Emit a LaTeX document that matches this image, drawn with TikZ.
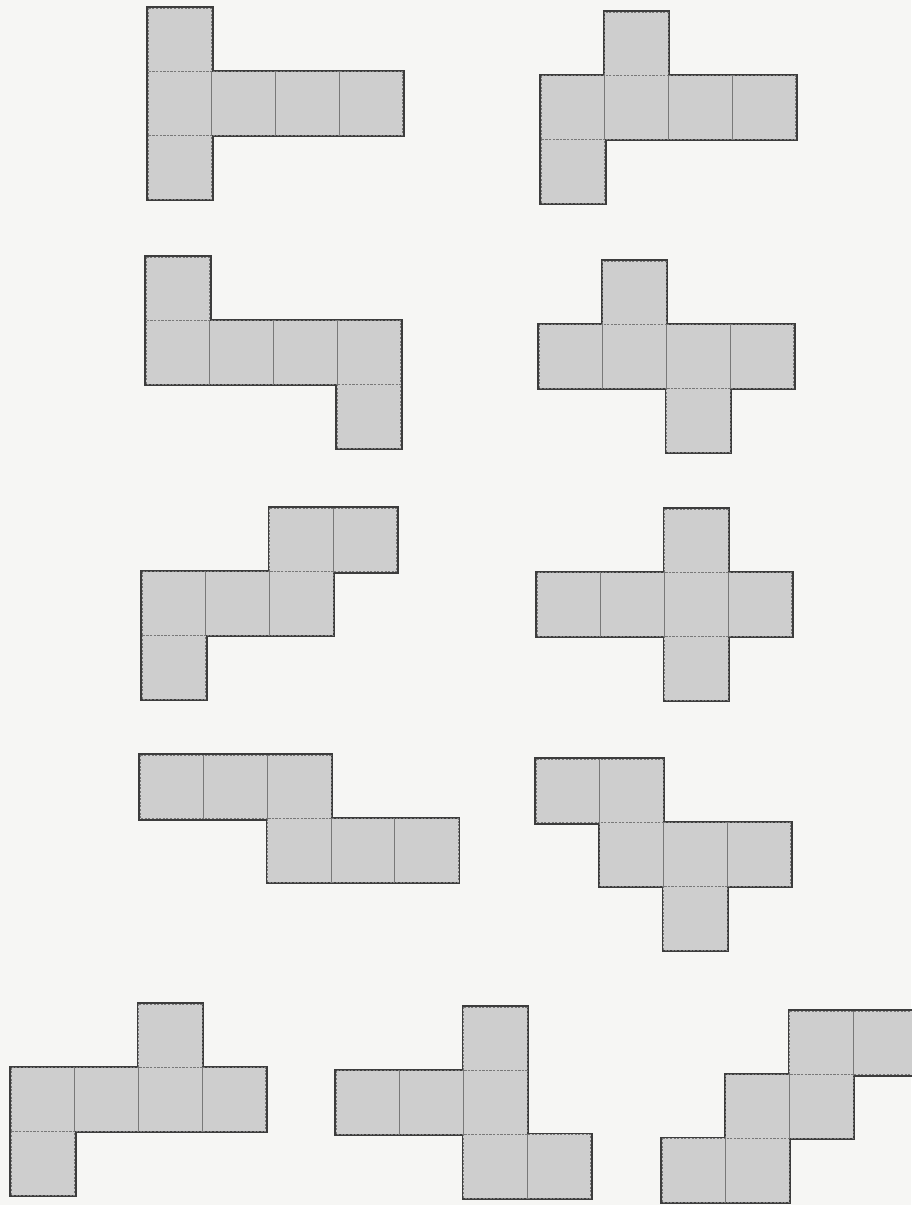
\documentclass[tikz,border=0pt]{standalone}
\begin{document}
\begin{tikzpicture}[x=1pt,y=-1pt]
\definecolor{bgc}{RGB}{246,246,244}
\definecolor{facec}{RGB}{206,206,206}
\definecolor{edgec}{RGB}{60,60,60}
\definecolor{foldc}{RGB}{120,120,120}
\tikzset{
  outerline/.style={draw=edgec,line width=3.6pt,line join=miter},
  facefill/.style={fill=facec},
  foldline/.style={draw=foldc,line width=0.9pt,dash pattern=on 2pt off 1.6pt},
}
\def\s{63.7}
\newcommand{\cubenet}[3]{%
  \begin{scope}[shift={(#1,#2)}]
    \foreach \c/\r in {#3} \draw[outerline] (\c*\s,\r*\s) rectangle ++(\s,\s);
    \foreach \c/\r in {#3} \fill[facefill] (\c*\s,\r*\s) rectangle ++(\s,\s);
    \foreach \c/\r in {#3} \draw[foldline] (\c*\s,\r*\s) rectangle ++(\s,\s);
  \end{scope}}
\fill[bgc] (0,0) rectangle (911,1205);
\useasboundingbox (0,0) rectangle (911,1205);
\cubenet{148}{8}{0/0,0/1,1/1,2/1,3/1,0/2}
\cubenet{541}{12}{1/0,0/1,1/1,2/1,3/1,0/2}
\cubenet{146}{257}{0/0,0/1,1/1,2/1,3/1,3/2}
\cubenet{539}{261}{1/0,0/1,1/1,2/1,3/1,2/2}
\cubenet{142}{508}{2/0,3/0,0/1,1/1,2/1,0/2}
\cubenet{537}{509}{2/0,0/1,1/1,2/1,3/1,2/2}
\cubenet{140}{755}{0/0,1/0,2/0,2/1,3/1,4/1}
\cubenet{536}{759}{0/0,1/0,1/1,2/1,3/1,2/2}
\cubenet{11}{1004}{2/0,0/1,1/1,2/1,3/1,0/2}
\cubenet{336}{1007}{2/0,0/1,1/1,2/1,2/2,3/2}
\cubenet{662}{1011}{2/0,3/0,1/1,2/1,0/2,1/2}
\end{tikzpicture}
\end{document}
